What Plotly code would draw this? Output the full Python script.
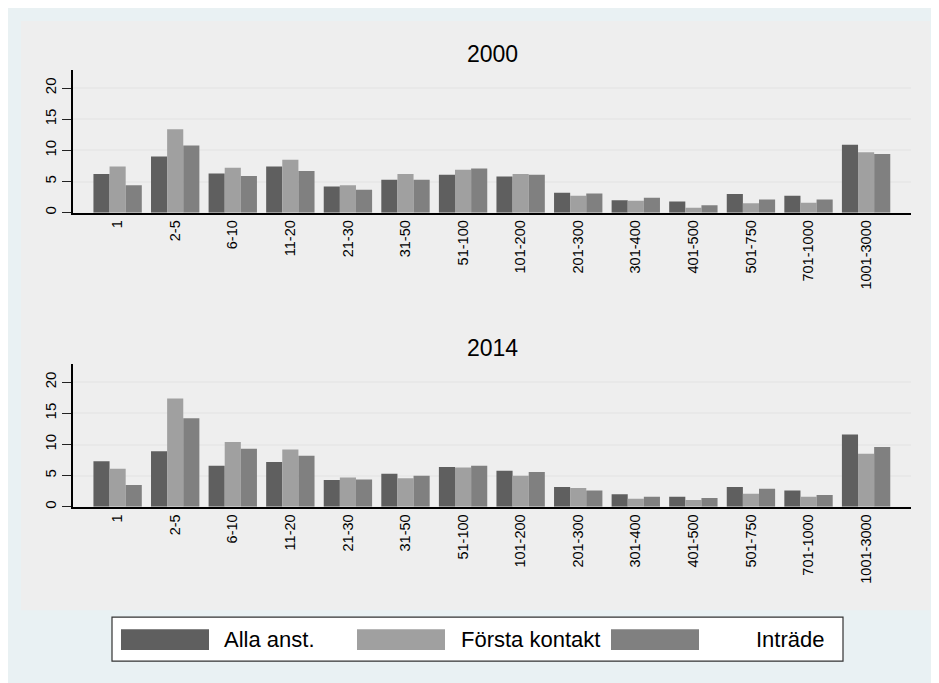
import plotly.graph_objects as go
from plotly.subplots import make_subplots

# --- data ---
categories = ["1", "2-5", "6-10", "11-20", "21-30", "31-50", "51-100", "101-200",
              "201-300", "301-400", "401-500", "501-750", "701-1000", "1001-3000"]

alla_2000 = [6.2, 9.0, 6.3, 7.4, 4.2, 5.3, 6.1, 5.8, 3.2, 2.0, 1.8, 3.0, 2.7, 10.9]
forsta_2000 = [7.4, 13.4, 7.2, 8.5, 4.4, 6.2, 6.9, 6.2, 2.7, 1.9, 0.8, 1.5, 1.6, 9.7]
intrade_2000 = [4.4, 10.8, 5.9, 6.7, 3.7, 5.3, 7.1, 6.1, 3.1, 2.4, 1.2, 2.1, 2.1, 9.4]

alla_2014 = [7.3, 8.9, 6.6, 7.2, 4.3, 5.3, 6.4, 5.8, 3.2, 2.0, 1.6, 3.2, 2.6, 11.6]
forsta_2014 = [6.1, 17.4, 10.4, 9.2, 4.7, 4.6, 6.3, 5.0, 3.0, 1.3, 1.1, 2.1, 1.6, 8.5]
intrade_2014 = [3.5, 14.2, 9.3, 8.2, 4.4, 5.0, 6.6, 5.6, 2.6, 1.6, 1.4, 2.9, 1.9, 9.6]

series_names = ["Alla anst.", "Första kontakt", "Inträde"]
COLORS = ["#5f5f5f", "#a0a0a0", "#808080"]
YEARS = ["2000", "2014"]

# page body adds an 8px margin, so the figure is 8px smaller and
# every position below is given in page pixels, then shifted
OFF = 8
W, H = 939 - OFF, 683 - OFF
FONT = "Liberation Sans, Arial, sans-serif"


def px_x(v):
    return (v - OFF) / W


def px_y(v):
    return 1 - (v - OFF) / H


fig = make_subplots(rows=2, cols=1)

panels = [(alla_2000, forsta_2000, intrade_2000), (alla_2014, forsta_2014, intrade_2014)]
for row, vals in enumerate(panels, start=1):
    for name, v, c in zip(series_names, vals, COLORS):
        fig.add_trace(go.Bar(x=categories, y=v, name=name, marker_color=c,
                             marker_line_width=0, showlegend=False), row=row, col=1)

# panel geometry (page pixels)
x_dom = [px_x(73), px_x(911)]
panel_y = [(70, 213.3), (365, 508.3)]

for i, (top, bot) in enumerate(panel_y, start=1):
    xa = "xaxis" if i == 1 else "xaxis2"
    ya = "yaxis" if i == 1 else "yaxis2"
    fig.layout[xa].update(domain=x_dom, range=[-0.775, 13.78], tickangle=-90,
                          showline=True, linecolor="black", linewidth=1.5,
                          showgrid=False, ticks="", zeroline=False,
                          tickfont=dict(size=14.5, color="black", family=FONT))
    fig.layout[ya].update(domain=[px_y(bot), px_y(top)], range=[0, 22.93],
                          tickvals=[0, 5, 10, 15, 20], tickangle=-90,
                          showline=True, linecolor="black", linewidth=1.5,
                          ticks="outside", ticklen=9, tickcolor="#222222",
                          showgrid=True, gridcolor="#e8e8e8", gridwidth=1.5,
                          zeroline=False,
                          tickfont=dict(size=15, color="black", family=FONT))
    fig.add_annotation(text=YEARS[i - 1], xref="paper", yref="paper",
                       x=px_x(492), y=px_y(top - 16), xanchor="center", yanchor="middle",
                       showarrow=False, font=dict(size=23, color="black", family=FONT))

shapes = [
    dict(type="rect", xref="paper", yref="paper", x0=px_x(21), x1=px_x(930),
         y0=px_y(612), y1=px_y(21), fillcolor="#eeeeee", line_width=0, layer="below"),
    dict(type="rect", xref="paper", yref="paper", x0=px_x(112), x1=px_x(843),
         y0=px_y(663), y1=px_y(619), fillcolor="white", line=dict(color="#333333", width=1.2)),
]

# legend drawn by hand so the swatches match the wide Stata keys
swatch_x = [121, 357, 611]
text_pos = [(222, "left"), (459, "left"), (827, "right")]
for sx, c, name, (tx, anchor) in zip(swatch_x, COLORS, series_names, text_pos):
    shapes.append(dict(type="rect", xref="paper", yref="paper", x0=px_x(sx), x1=px_x(sx + 88),
                       y0=px_y(652), y1=px_y(631), fillcolor=c, line_width=0))
    fig.add_annotation(text=name, xref="paper", yref="paper", x=px_x(tx), y=px_y(641.5),
                       xanchor=anchor, yanchor="middle", showarrow=False,
                       font=dict(size=22, color="black", family=FONT))

fig.update_layout(
    width=W, height=H,
    margin=dict(l=0, r=0, t=0, b=0),
    paper_bgcolor="#e9f1f3", plot_bgcolor="white",
    barmode="group", bargap=0.16, bargroupgap=0,
    shapes=shapes,
    font=dict(family=FONT),
)

fig.write_html("out.html")
